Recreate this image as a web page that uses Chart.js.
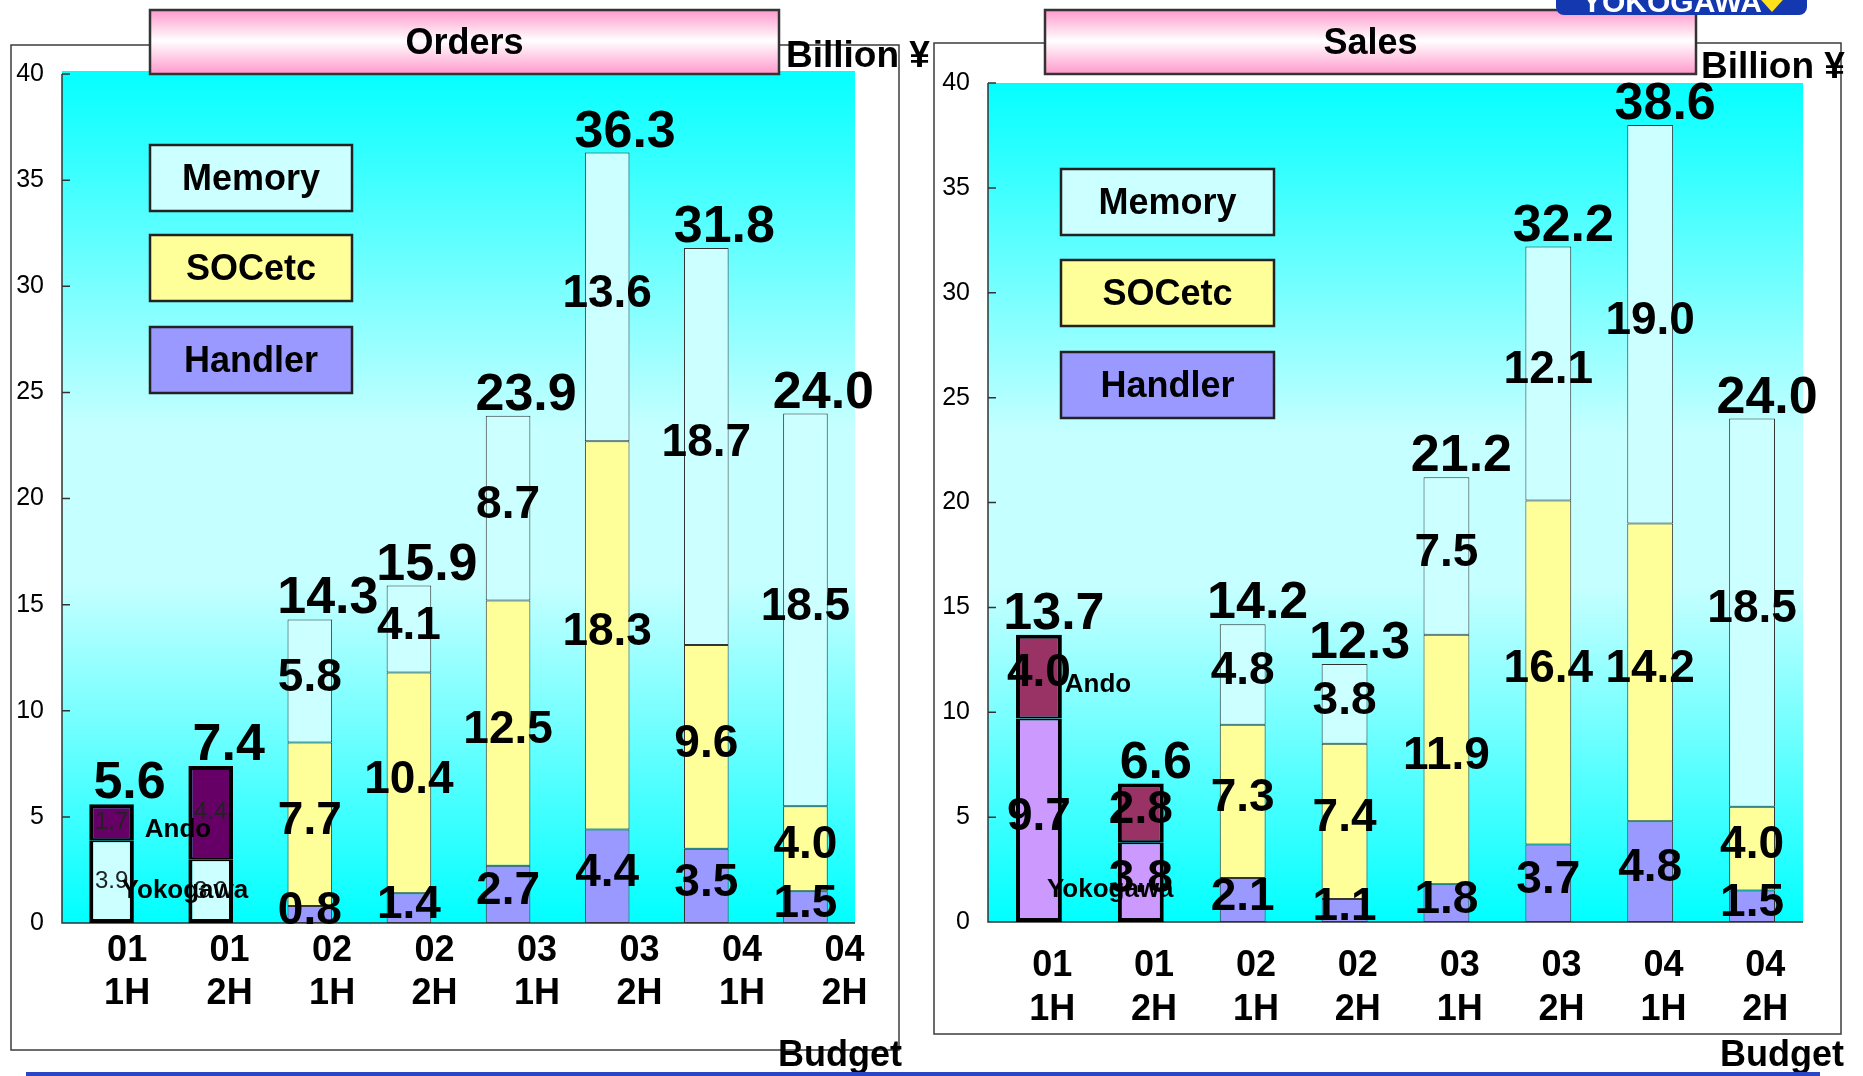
<!DOCTYPE html>
<html>
<head>
<meta charset="utf-8">
<title>Orders / Sales</title>
<script src="https://cdn.jsdelivr.net/npm/chart.js@4.4.0/dist/chart.umd.min.js"></script>
<style>
  html, body { margin: 0; padding: 0; background: #fff; }
  #page { position: relative; width: 1863px; height: 1076px; overflow: hidden; }
  canvas { position: absolute; top: 0; }
  #orders { left: 0; }
  #sales { left: 932px; }
  #rule { position: absolute; left: 26px; top: 1072px; width: 1794px; height: 4px; background: #2a46c6; }
</style>
</head>
<body>
<div id="page">
  <canvas id="orders" width="932" height="1076"></canvas>
  <canvas id="sales" width="931" height="1076"></canvas>
  <div id="rule"></div>
</div>
<script>
// half-year periods on the x axis
const periods = [['01', '1H'], ['01', '2H'], ['02', '1H'], ['02', '2H'],
                 ['03', '1H'], ['03', '2H'], ['04', '1H'], ['04', '2H']];
const yMax = 40;
const yStep = 5;
const legendNames = ['Memory', 'SOCetc', 'Handler'];

// Orders, billion yen
const ordersYokogawa = [3.9, 3.0, null, null, null, null, null, null];
const ordersAndo = [1.7, 4.4, null, null, null, null, null, null];
const ordersHandler = [null, null, 0.8, 1.4, 2.7, 4.4, 3.5, 1.5];
const ordersSOCetc = [null, null, 7.7, 10.4, 12.5, 18.3, 9.6, 4.0];
const ordersMemory = [null, null, 5.8, 4.1, 8.7, 13.6, 18.7, 18.5];
const ordersTotals = ['5.6', '7.4', '14.3', '15.9', '23.9', '36.3', '31.8', '24.0'];

// Sales, billion yen
const salesYokogawa = [9.7, 3.8, null, null, null, null, null, null];
const salesAndo = [4.0, 2.8, null, null, null, null, null, null];
const salesHandler = [null, null, 2.1, 1.1, 1.8, 3.7, 4.8, 1.5];
const salesSOCetc = [null, null, 7.3, 7.4, 11.9, 16.4, 14.2, 4.0];
const salesMemory = [null, null, 4.8, 3.8, 7.5, 12.1, 19.0, 18.5];
const salesTotals = ['13.7', '6.6', '14.2', '12.3', '21.2', '32.2', '38.6', '24.0'];

const FONT = "'Liberation Sans', Arial, Helvetica, sans-serif";
const COLORS = { Memory: '#CCFFFF', SOCetc: '#FFFF99', Handler: '#9999FF' };

// page layout of each panel (canvas pixels); period labels sit on the
// category scale at labelStart + i * labelStep
const ordersPanel = {
  title: 'Orders',
  frame: [11, 45, 888, 1005],
  titleBox: [150, 10, 629, 64],
  billion: [786, 57],
  budget: [778, 1056],
  legend: { x: 150, w: 202, h: 66, ys: [145, 235, 327] },
  top: 74, right: 77, axisWidth: 62, bottom: 153,
  bgLift: 3,
  labelStart: 0.157, labelStep: 1.034, labelY: 951, labelLine: 43,
  yokoColor: '#CCFFFF', andoColor: '#660066',
  smallSplit: true, totalShift: 18,
  notes: [{ text: 'Ando', x: 0.67, y: 4.4 }, { text: 'Yokogawa', x: 0.74, y: 1.5 }],
  logo: false,
};
const salesPanel = {
  title: 'Sales',
  frame: [2, 43, 907, 991],
  titleBox: [113, 10, 651, 64],
  billion: [769, 68],
  budget: [788, 1056],
  legend: { x: 129, w: 213, h: 66, ys: [169, 260, 352] },
  top: 83, right: 60, axisWidth: 56, bottom: 154,
  bgLift: 0,
  labelStart: 0.13, labelStep: 1.0, labelY: 966, labelLine: 44,
  yokoColor: '#CC99FF', andoColor: '#993366',
  smallSplit: false, totalShift: 15,
  notes: [{ text: 'Ando', x: 0.58, y: 11.3 }, { text: 'Yokogawa', x: 0.70, y: 1.53 }],
  logo: true,
};

function drawText(ctx, str, x, y, font, align, baseline, color) {
  ctx.font = font;
  ctx.textAlign = align;
  ctx.textBaseline = baseline;
  ctx.fillStyle = color || '#000';
  ctx.fillText(str, x, y);
}

function makePanelPlugin(p, totals) {
  return {
    id: 'panel',
    beforeDraw(chart) {
      const { ctx, chartArea: a, scales } = chart;
      ctx.save();
      ctx.strokeStyle = '#3c3c3c';
      ctx.lineWidth = 1.5;
      ctx.strokeRect(...p.frame);

      const g = ctx.createLinearGradient(0, a.top - p.bgLift, 0, a.bottom);
      g.addColorStop(0, '#05FFFF');
      g.addColorStop(0.42, '#C6FFFF');
      g.addColorStop(0.6, '#C6FFFF');
      g.addColorStop(1, '#00FFFF');
      ctx.fillStyle = g;
      ctx.fillRect(a.left, a.top - p.bgLift, a.right - a.left, a.bottom - a.top + p.bgLift);

      // axis lines with short inward ticks
      ctx.strokeStyle = '#333';
      ctx.lineWidth = 1.5;
      ctx.beginPath();
      ctx.moveTo(a.left, a.top);
      ctx.lineTo(a.left, a.bottom);
      ctx.lineTo(a.right, a.bottom);
      scales.y.ticks.forEach(t => {
        const y = scales.y.getPixelForValue(t.value);
        ctx.moveTo(a.left, y);
        ctx.lineTo(a.left + 8, y);
      });
      ctx.stroke();

      // period labels, two lines each
      periods.forEach((lines, i) => {
        const x = scales.x.getPixelForValue(p.labelStart + i * p.labelStep);
        lines.forEach((s, k) => {
          drawText(ctx, s, x, p.labelY + k * p.labelLine, `bold 36px ${FONT}`, 'center', 'middle');
        });
      });
      ctx.restore();
    },
    afterDatasetsDraw(chart) {
      const { ctx, scales } = chart;
      ctx.save();
      const tops = [];
      chart.data.datasets.forEach((ds, i) => {
        chart.getDatasetMeta(i).data.forEach((bar, j) => {
          const v = ds.data[j];
          if (v == null) return;
          if (!tops[j] || bar.y < tops[j].y) tops[j] = { x: bar.x, y: bar.y };
          const small = ds.split && p.smallSplit;
          const mid = (bar.y + bar.base) / 2;
          if (small) {
            drawText(ctx, v.toFixed(1), bar.x, mid, `24px ${FONT}`, 'center', 'middle', '#222');
          } else {
            drawText(ctx, v.toFixed(1), bar.x, mid - 3, `bold 46px ${FONT}`, 'center', 'middle', '#000');
          }
        });
      });
      totals.forEach((t, j) => {
        if (!tops[j]) return;
        drawText(ctx, t, tops[j].x + p.totalShift, tops[j].y - 6, `bold 52px ${FONT}`, 'center', 'alphabetic', '#000');
      });
      p.notes.forEach(n => {
        drawText(ctx, n.text, scales.x.getPixelForValue(n.x), scales.y.getPixelForValue(n.y),
          `bold 26px ${FONT}`, 'center', 'middle', '#000');
      });
      ctx.restore();
    },
    afterDraw(chart) {
      const { ctx } = chart;
      ctx.save();
      // title box
      const [tx, ty, tw, th] = p.titleBox;
      const tg = ctx.createLinearGradient(0, ty, 0, ty + th);
      tg.addColorStop(0, '#FF99CC');
      tg.addColorStop(0.48, '#FFFFFF');
      tg.addColorStop(1, '#FF99CC');
      ctx.fillStyle = tg;
      ctx.fillRect(tx, ty, tw, th);
      ctx.strokeStyle = '#333';
      ctx.lineWidth = 2.5;
      ctx.strokeRect(tx, ty, tw, th);
      drawText(ctx, p.title, tx + tw / 2, ty + th / 2 + 2, `bold 36px ${FONT}`, 'center', 'middle');

      // legend boxes
      const L = p.legend;
      legendNames.forEach((name, i) => {
        ctx.fillStyle = COLORS[name];
        ctx.fillRect(L.x, L.ys[i], L.w, L.h);
        ctx.strokeStyle = '#222';
        ctx.lineWidth = 2.5;
        ctx.strokeRect(L.x, L.ys[i], L.w, L.h);
        drawText(ctx, name, L.x + L.w / 2, L.ys[i] + L.h / 2 + 2, `bold 36px ${FONT}`, 'center', 'middle');
      });

      drawText(ctx, 'Billion ¥', p.billion[0], p.billion[1], `bold 37px ${FONT}`, 'left', 'middle');
      drawText(ctx, 'Budget', p.budget[0], p.budget[1], `bold 36px ${FONT}`, 'left', 'middle');

      if (p.logo) {
        ctx.fillStyle = '#1438b0';
        ctx.beginPath();
        ctx.roundRect(624, -20, 251, 35, 8);
        ctx.fill();
        drawText(ctx, 'YOKOGAWA', 650, 12, `bold 30px ${FONT}`, 'left', 'alphabetic', '#fff');
        ctx.fillStyle = '#FFE21A';
        ctx.beginPath();
        ctx.moveTo(822, -8);
        ctx.lineTo(858, -8);
        ctx.lineTo(840, 12);
        ctx.closePath();
        ctx.fill();
      }
      ctx.restore();
    },
  };
}

function barSet(label, data, color, border, split) {
  return {
    label, data, split,
    backgroundColor: color,
    borderColor: split ? '#000' : '#333',
    borderWidth: border,
    borderSkipped: false,
    barPercentage: 0.45,
    categoryPercentage: 1,
  };
}

function renderPanel(canvasId, p, series, totals) {
  return new Chart(document.getElementById(canvasId), {
    type: 'bar',
    data: {
      labels: periods.map(q => q.join(' ')),
      datasets: [
        barSet('Yokogawa', series.yokogawa, p.yokoColor, { left: 4, right: 4, bottom: 4, top: 2 }, true),
        barSet('Ando', series.ando, p.andoColor, { left: 4, right: 4, top: 4, bottom: 2 }, true),
        barSet('Handler', series.handler, COLORS.Handler, 1, false),
        barSet('SOCetc', series.socetc, COLORS.SOCetc, 1, false),
        barSet('Memory', series.memory, COLORS.Memory, 1, false),
      ],
    },
    options: {
      responsive: false,
      animation: false,
      devicePixelRatio: 1,
      layout: { padding: { top: p.top, left: 0, right: p.right, bottom: p.bottom } },
      scales: {
        x: { type: 'category', stacked: true, display: false },
        y: {
          stacked: true, min: 0, max: yMax,
          grid: { display: false, drawTicks: false },
          border: { display: false },
          afterFit: s => { s.width = p.axisWidth; },
          ticks: { stepSize: yStep, padding: 18, color: '#000', font: { family: FONT, size: 25 } },
        },
      },
      plugins: { legend: { display: false }, tooltip: { enabled: false } },
    },
    plugins: [makePanelPlugin(p, totals)],
  });
}

renderPanel('orders', ordersPanel, {
  yokogawa: ordersYokogawa, ando: ordersAndo,
  handler: ordersHandler, socetc: ordersSOCetc, memory: ordersMemory,
}, ordersTotals);

renderPanel('sales', salesPanel, {
  yokogawa: salesYokogawa, ando: salesAndo,
  handler: salesHandler, socetc: salesSOCetc, memory: salesMemory,
}, salesTotals);
</script>
</body>
</html>
